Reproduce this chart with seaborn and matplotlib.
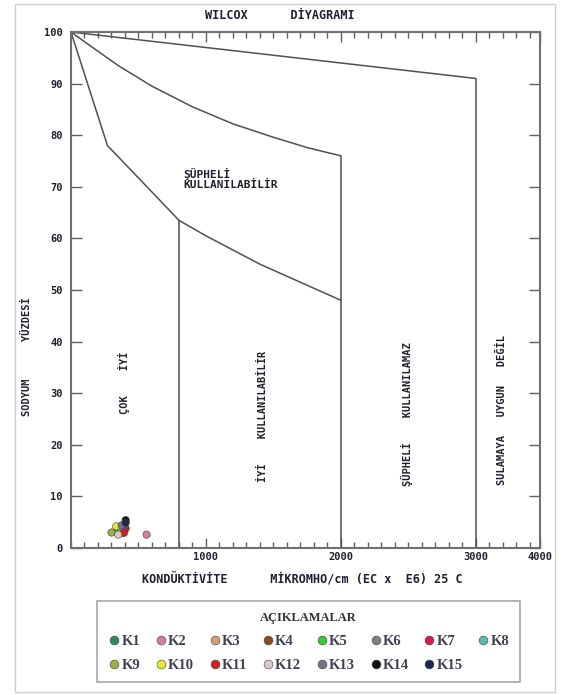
import numpy as np
import pandas as pd
import matplotlib
matplotlib.use("Agg")
import matplotlib.pyplot as plt
from matplotlib.patches import Rectangle
from matplotlib.ticker import MultipleLocator
import seaborn as sns

# Wilcox diagram boundary lines (EC in micromho/cm, sodium %)
top_x = [0, 3000, 3000]
top_y = [100, 91, 0]
mid_x = [0, 150, 350, 600, 900, 1200, 1500, 1750, 2000, 2000]
mid_y = [100, 97.2, 93.5, 89.5, 85.5, 82.2, 79.6, 77.6, 76, 0]
low_x = [0, 270, 585, 800, 1000, 1400, 2000]
low_y = [100, 78, 69.4, 63.5, 60.5, 55, 48]
cut_x = [800, 800]
cut_y = [63.5, 0]

# Sample points
stations = ['K1', 'K2', 'K3', 'K4', 'K5', 'K6', 'K7', 'K8',
            'K9', 'K10', 'K11', 'K12', 'K13', 'K14', 'K15']
ec = [380, 560, 395, 405, 340, 360, 395, 370, 300, 335, 385, 350, 375, 405, 405]
na = [3.5, 2.6, 3.0, 3.8, 3.2, 4.0, 3.4, 3.6, 3.0, 4.2, 2.9, 2.6, 4.4, 5.4, 4.9]
colors = ['#2e8b57', '#d87aa0', '#d2a070', '#8b4a20', '#33cc33', '#808080',
          '#d81b50', '#5fb8b0', '#9ab040', '#e6e632', '#d02020', '#d8c8c8',
          '#707888', '#101010', '#1c2850']

df = pd.DataFrame({'Istasyon': stations, 'EC': ec, 'Na': na})

sns.set_style("white")
plt.rcParams['font.family'] = ['DejaVu Sans Mono', 'DejaVu Sans']
plt.rcParams['font.weight'] = 'bold'

fig = plt.figure(figsize=(5.63, 6.95), dpi=100)
ax = fig.add_axes([0.1261, 0.2115, 0.833, 0.7424])

line_kw = dict(color='#505050', lw=1.1)
ax.plot(top_x, top_y, **line_kw)
ax.plot(mid_x, mid_y, **line_kw)
ax.plot(low_x, low_y, **line_kw)
ax.plot(cut_x, cut_y, **line_kw)

sns.scatterplot(data=df, x='EC', y='Na', hue='Istasyon', palette=colors,
                s=28, edgecolor='#404040', linewidth=0.4, ax=ax, zorder=3)

ax.set_xlim(0, 3474)
ax.set_ylim(0, 100)

ax.set_xticks([1000, 2000, 3000, 3474])
ax.set_xticklabels(['1000', '2000', '3000', '4000'])
ax.xaxis.set_minor_locator(MultipleLocator(100))
ax.set_yticks(np.arange(0, 101, 10))
ax.tick_params(axis='x', which='major', direction='in', length=7, width=1,
               color='#606060', top=True, bottom=True, labelsize=7.5, pad=3,
               labelcolor='#202030')
ax.tick_params(axis='x', which='minor', direction='in', length=4, width=1,
               color='#606060', top=True, bottom=True)
ax.tick_params(axis='y', direction='in', length=8, width=1, color='#606060',
               left=True, right=True, labelsize=7.5, pad=6, labelcolor='#202030')
for lab in ax.get_xticklabels() + ax.get_yticklabels():
    lab.set_fontweight('bold')

for sp in ax.spines.values():
    sp.set_color('#707070')
    sp.set_linewidth(1.5)

ax.set_title('WILCOX      DİYAGRAMI', fontsize=8.5, fontweight='bold',
             x=0.446, y=1.026, pad=0, color='#202030')
ax.set_xlabel('KONDÜKTİVİTE      MİKROMHO/cm (EC x  E6) 25 C',
              fontsize=8.5, fontweight='bold', color='#202030')
ax.xaxis.set_label_coords(0.4925, -0.046)
ax.set_ylabel('SODYUM      YÜZDESİ', fontsize=7.5, fontweight='bold',
              color='#202030')
ax.yaxis.set_label_coords(-0.083, 0.37)

txt_kw = dict(fontsize=7.5, fontweight='bold', color='#202030',
              ha='center', va='center', rotation=90)
ax.text(393, 32, 'ÇOK    İYİ', **txt_kw)
ax.text(1422, 25.6, 'İYİ    KULLANILABİLİR', **txt_kw)
ax.text(2489, 26, 'ŞÜPHELİ    KULLANILAMAZ', **txt_kw)
ax.text(3193, 26.7, 'SULAMAYA   UYGUN   DEĞİL', **txt_kw)
ax.text(830, 71.5, 'ŞÜPHELİ\nKULLANILABİLİR', fontsize=8, fontweight='bold',
        color='#202030', ha='left', va='center', linespacing=1.0)

handles, labels = ax.get_legend_handles_labels()
ax.get_legend().remove()
order = [0, 8, 1, 9, 2, 10, 3, 11, 4, 12, 5, 13, 6, 14, 7]
leg = fig.legend([handles[i] for i in order], [labels[i] for i in order],
                 ncol=8, loc='center', bbox_to_anchor=(0.16, 0.013, 0.776, 0.127),
                 mode='expand', title='AÇIKLAMALAR', fancybox=False,
                 edgecolor='#909090', handletextpad=0.05, columnspacing=0.4,
                 handlelength=0.9, labelspacing=0.75, borderpad=0.7,
                 markerscale=1.2,
                 prop={'family': 'Liberation Serif', 'weight': 'bold', 'size': 10.5},
                 title_fontproperties={'family': 'Liberation Serif',
                                       'weight': 'bold', 'size': 9})
leg.get_frame().set_linewidth(1.2)
leg.get_title().set_color('#303030')
for t in leg.get_texts():
    t.set_color('#404050')

fig.patches.append(Rectangle((0.027, 0.004), 0.958, 0.99, transform=fig.transFigure,
                             fill=False, edgecolor='#d0d0d0', lw=1.0))

fig.savefig('out.png', dpi=100, facecolor='white')
